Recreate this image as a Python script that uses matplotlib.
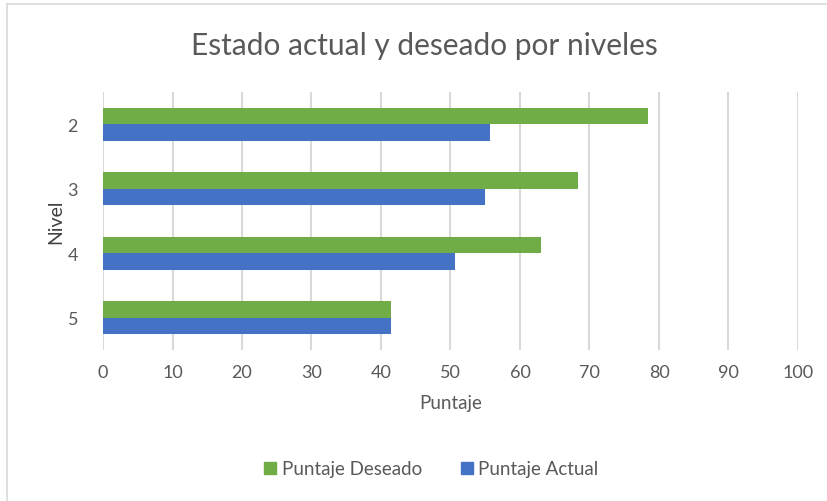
import numpy as np
import matplotlib.pyplot as plt
from matplotlib.lines import Line2D

niveles = ['2', '3', '4', '5']
puntaje_deseado = [78.4, 68.4, 63.0, 41.4]
puntaje_actual = [55.7, 54.9, 50.6, 41.4]
x_ticks = list(range(0, 101, 10))

verde = '#70AD47'
azul = '#4472C4'
gris = '#595959'

plt.rcParams['font.family'] = ['Lato', 'DejaVu Sans']

fig = plt.figure(figsize=(8.28, 5.02), dpi=100)
ax = fig.add_axes([103 / 828, 1 - 351 / 502, 695 / 828, 258 / 502])

y = np.arange(len(niveles))
h = 0.255
ax.barh(y - h / 2, puntaje_deseado, height=h, color=verde, label='Puntaje Deseado', zorder=3)
ax.barh(y + h / 2, puntaje_actual, height=h, color=azul, label='Puntaje Actual', zorder=3)

ax.set_xlim(0, 100)
ax.set_ylim(len(niveles) - 0.5, -0.5)
ax.set_xticks(x_ticks)
ax.set_yticks(y)
ax.set_yticklabels(niveles)
ax.grid(axis='x', color='#d9d9d9', linewidth=1.5, zorder=0)
for s in ax.spines.values():
    s.set_visible(False)
ax.tick_params(axis='both', length=0, labelsize=13, colors=gris, pad=10)
ax.tick_params(axis='y', pad=18)

ax.set_xlabel('Puntaje', fontsize=13.5, color=gris, labelpad=10)
ax.set_ylabel('Nivel', fontsize=14, color='#404040', labelpad=2)

fig.text(0.512, 1 - 46 / 502, 'Estado actual y deseado por niveles', ha='center', va='center',
         fontsize=21.5, color=gris)

handles = [Line2D([], [], marker='s', linestyle='', markersize=9, color=verde),
           Line2D([], [], marker='s', linestyle='', markersize=9, color=azul)]
fig.legend(handles, ['Puntaje Deseado', 'Puntaje Actual'], loc='center',
           bbox_to_anchor=(0.52, 1 - 470 / 502), ncol=2, frameon=False,
           fontsize=13.5, labelcolor=gris, handletextpad=0.2, columnspacing=2.0,
           handlelength=0.8)

# marco del grafico (solo bordes izquierdo y superior visibles)
fig.add_artist(Line2D([7 / 828, 7 / 828], [0, 1 - 5 / 502], color='#d9d9d9', linewidth=1.2,
                      transform=fig.transFigure))
fig.add_artist(Line2D([7 / 828, 1], [1 - 5 / 502, 1 - 5 / 502], color='#d9d9d9', linewidth=1.2,
                      transform=fig.transFigure))

fig.savefig('out.png', dpi=100)
